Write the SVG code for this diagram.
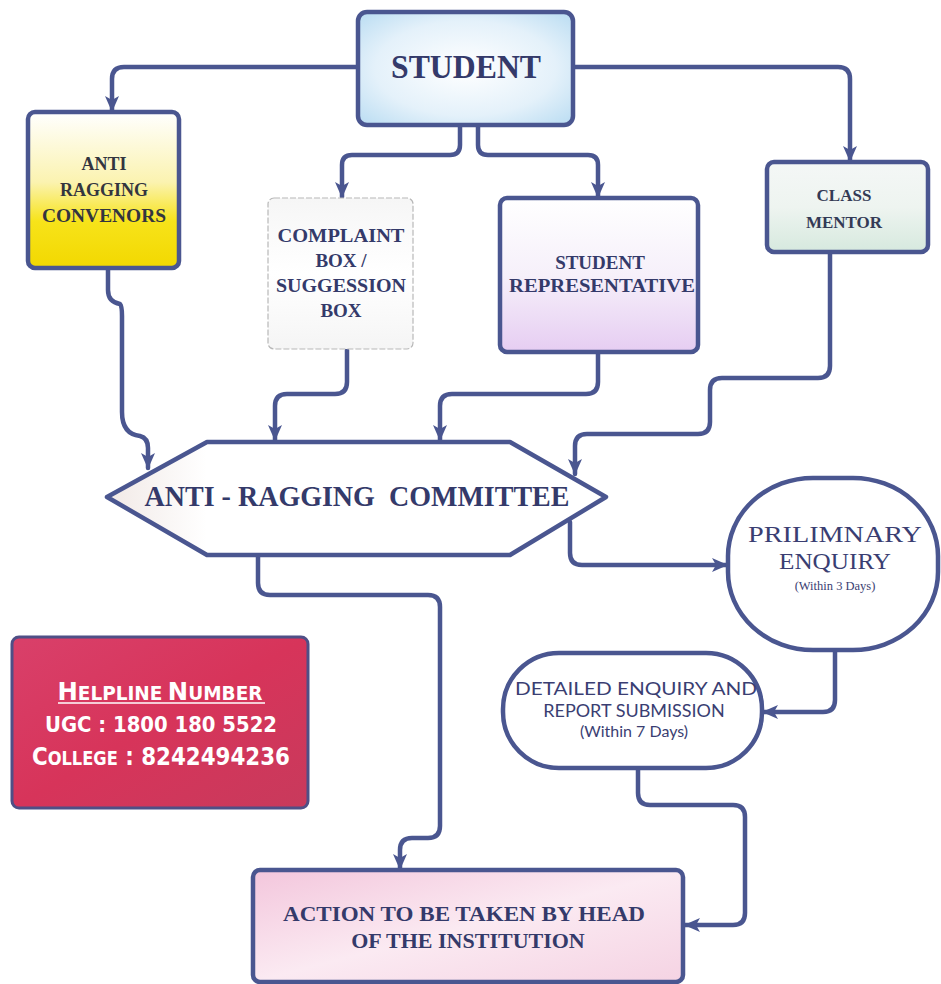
<svg xmlns="http://www.w3.org/2000/svg" width="941" height="984" viewBox="0 0 941 984">
<defs>
<style>
.box{stroke:#4a5690;stroke-width:4.5}
.conn path{fill:none;stroke:#4a5690;stroke-width:4.5;stroke-linejoin:round;stroke-linecap:round}
.t{font-family:"Liberation Serif","Times New Roman",serif;font-weight:bold;fill:#343a6a;text-anchor:middle}
.p{font-family:"Liberation Serif","Times New Roman",serif;fill:#3a3e72;text-anchor:middle}
.s{font-family:Lato,"Liberation Sans",sans-serif;fill:#3a3e72;text-anchor:middle}
.h{font-family:"DejaVu Sans Condensed","DejaVu Sans",sans-serif;font-weight:bold;fill:#ffffff;text-anchor:middle}
</style>
<marker id="ah" viewBox="0 0 16 14" refX="15" refY="7" markerWidth="16" markerHeight="14" markerUnits="userSpaceOnUse" orient="auto">
<path d="M0,0 L16,7 L0,14 L4,7 Z" fill="#4a5690"/>
</marker>
<radialGradient id="gStu" cx="0.5" cy="0.5" r="0.7">
<stop offset="0" stop-color="#ffffff"/><stop offset="0.6" stop-color="#e4f1fa"/><stop offset="1" stop-color="#b9dcf2"/>
</radialGradient>
<linearGradient id="gYel" x1="0" y1="0" x2="0" y2="1">
<stop offset="0" stop-color="#ffffff"/><stop offset="0.45" stop-color="#fbf3b0"/><stop offset="0.7" stop-color="#f7e31a"/><stop offset="1" stop-color="#f2d800"/>
</linearGradient>
<linearGradient id="gGrey" x1="0" y1="0" x2="0" y2="1">
<stop offset="0" stop-color="#f6f6f6"/><stop offset="0.5" stop-color="#ffffff"/><stop offset="1" stop-color="#f5f5f5"/>
</linearGradient>
<linearGradient id="gLav" x1="0" y1="0" x2="0" y2="1">
<stop offset="0" stop-color="#ffffff"/><stop offset="0.5" stop-color="#f6f0fa"/><stop offset="1" stop-color="#e6cdf2"/>
</linearGradient>
<linearGradient id="gGreen" x1="0" y1="0" x2="0" y2="1">
<stop offset="0" stop-color="#f4f7f6"/><stop offset="0.5" stop-color="#eef4f0"/><stop offset="1" stop-color="#d6e9de"/>
</linearGradient>
<linearGradient id="gHex" x1="0" y1="0" x2="1" y2="0">
<stop offset="0" stop-color="#f1e9e6"/><stop offset="0.2" stop-color="#ffffff"/><stop offset="1" stop-color="#ffffff"/>
</linearGradient>
<linearGradient id="gRed" x1="0" y1="0" x2="1" y2="1">
<stop offset="0" stop-color="#d9406a"/><stop offset="0.5" stop-color="#d7345a"/><stop offset="1" stop-color="#c83a5c"/>
</linearGradient>
<linearGradient id="gPink" x1="0" y1="0" x2="1" y2="1">
<stop offset="0" stop-color="#f3c6dc"/><stop offset="0.5" stop-color="#fbeaf2"/><stop offset="1" stop-color="#f5d3e3"/>
</linearGradient>
</defs>

<g class="conn" id="connectors">
<path d="M358,67 H124 Q112,67 112,79 V111" marker-end="url(#ah)"/>
<path d="M460,125 V145 Q460,155 450,155 H352 Q342,155 342,165 V197" marker-end="url(#ah)"/>
<path d="M478,125 V145 Q478,155 488,155 H588 Q598,155 598,165 V197" marker-end="url(#ah)"/>
<path d="M573,67 H838 Q850,67 850,79 V161" marker-end="url(#ah)"/>
<path d="M108,268 V290 Q108,302 120,304 Q122,306 122,316 V412 Q122,434 140,436 Q148,438 148,448 V468" marker-end="url(#ah)"/>
<path d="M347,350 V382 Q347,394 335,394 H287 Q275,394 275,406 V440" marker-end="url(#ah)"/>
<path d="M598,352 V382 Q598,394 586,394 H452 Q440,394 440,406 V440" marker-end="url(#ah)"/>
<path d="M830,252 V366 Q830,378 818,378 H722 Q710,378 710,390 V422 Q710,434 698,434 H587 Q575,434 575,446 V474" marker-end="url(#ah)"/>
<path d="M570,522 V553 Q570,565 582,565 H727" marker-end="url(#ah)"/>
<path d="M258,555 V583 Q258,595 270,595 H428 Q440,595 440,607 V826 Q440,838 428,838 H412 Q400,838 400,850 V869" marker-end="url(#ah)"/>
<path d="M835,650 V700 Q835,712 823,712 H763" marker-end="url(#ah)"/>
<path d="M638,768 V793 Q638,805 650,805 H733 Q745,805 745,817 V913 Q745,925 733,925 H685" marker-end="url(#ah)"/>
</g>

<g id="student">
<rect class="box" x="358" y="12" width="215" height="113" rx="9" fill="url(#gStu)"/>
<text class="t" x="466" y="78" font-size="33" textLength="150" lengthAdjust="spacingAndGlyphs">STUDENT</text>
</g>

<g id="anti-ragging-convenors">
<rect class="box" x="28" y="112" width="151" height="156" rx="7" fill="url(#gYel)"/>
<text class="t" x="104" y="170" font-size="18" style="fill:#33353f">ANTI</text>
<text class="t" x="104" y="196" font-size="18" style="fill:#33353f">RAGGING</text>
<text class="t" x="104" y="222" font-size="18" textLength="124" lengthAdjust="spacingAndGlyphs" style="fill:#33353f">CONVENORS</text>
</g>

<g id="complaint-box">
<rect x="268" y="198" width="145" height="151" rx="6" fill="url(#gGrey)" stroke="#b8b8b8" stroke-width="1.2" stroke-dasharray="6 2"/>
<text class="t" x="341" y="242" font-size="19" textLength="127" lengthAdjust="spacingAndGlyphs">COMPLAINT</text>
<text class="t" x="341" y="267" font-size="19">BOX /</text>
<text class="t" x="341" y="292" font-size="19" textLength="130" lengthAdjust="spacingAndGlyphs">SUGGESSION</text>
<text class="t" x="341" y="317" font-size="19">BOX</text>
</g>

<g id="student-representative">
<rect class="box" x="500" y="198" width="198" height="154" rx="7" fill="url(#gLav)"/>
<text class="t" x="600" y="269" font-size="19">STUDENT</text>
<text class="t" x="602" y="292" font-size="19" textLength="186" lengthAdjust="spacingAndGlyphs">REPRESENTATIVE</text>
</g>

<g id="class-mentor">
<rect class="box" x="767" y="162" width="161" height="90" rx="7" fill="url(#gGreen)"/>
<text class="t" x="844" y="201" font-size="17" style="fill:#333a55">CLASS</text>
<text class="t" x="844" y="228" font-size="17" style="fill:#333a55">MENTOR</text>
</g>

<g id="anti-ragging-committee">
<path class="box" d="M107,497 L207,442 L510,442 L606,497 L510,555 L207,555 Z" fill="url(#gHex)" stroke-linejoin="round"/>
<text class="t" x="357" y="506" font-size="30" textLength="425" lengthAdjust="spacingAndGlyphs" xml:space="preserve">ANTI - RAGGING  COMMITTEE</text>
</g>

<g id="prilimnary-enquiry">
<rect class="box" x="728" y="478" width="210" height="172" rx="85" ry="78" fill="#ffffff"/>
<text class="p" x="835" y="542" font-size="24" textLength="174" lengthAdjust="spacingAndGlyphs">PRILIMNARY</text>
<text class="p" x="835" y="569" font-size="24" textLength="112" lengthAdjust="spacingAndGlyphs">ENQUIRY</text>
<text class="p" x="835" y="590" font-size="12.5">(Within 3 Days)</text>
</g>

<g id="detailed-enquiry">
<rect class="box" x="503" y="653" width="259" height="115" rx="56" fill="#ffffff"/>
<text class="s" x="636" y="695" font-size="18" textLength="242" lengthAdjust="spacingAndGlyphs">DETAILED ENQUIRY AND</text>
<text class="s" x="634" y="717" font-size="18">REPORT SUBMISSION</text>
<text class="s" x="634" y="737" font-size="16">(Within 7 Days)</text>
</g>

<g id="helpline">
<rect x="12" y="637" width="296" height="171" rx="7" fill="url(#gRed)" stroke="#4f4f86" stroke-width="3"/>
<text class="h" x="160" y="700" textLength="205" lengthAdjust="spacingAndGlyphs"><tspan font-size="25">H</tspan><tspan font-size="19">ELPLINE</tspan> <tspan font-size="25">N</tspan><tspan font-size="19">UMBER</tspan></text>
<line x1="58" y1="703" x2="265" y2="703" stroke="#ffffff" stroke-width="1.5"/>
<text class="h" x="161" y="732" font-size="22" textLength="232" lengthAdjust="spacingAndGlyphs">UGC : 1800 180 5522</text>
<text class="h" x="161" y="765" textLength="258" lengthAdjust="spacingAndGlyphs"><tspan font-size="25">C</tspan><tspan font-size="19">OLLEGE</tspan><tspan font-size="25"> : 8242494236</tspan></text>
</g>

<g id="action">
<rect class="box" x="253" y="870" width="430" height="112" rx="7" fill="url(#gPink)"/>
<text class="t" x="464" y="921" font-size="22" textLength="362" lengthAdjust="spacingAndGlyphs">ACTION TO BE TAKEN BY HEAD</text>
<text class="t" x="468" y="948" font-size="22">OF THE INSTITUTION</text>
</g>
</svg>
